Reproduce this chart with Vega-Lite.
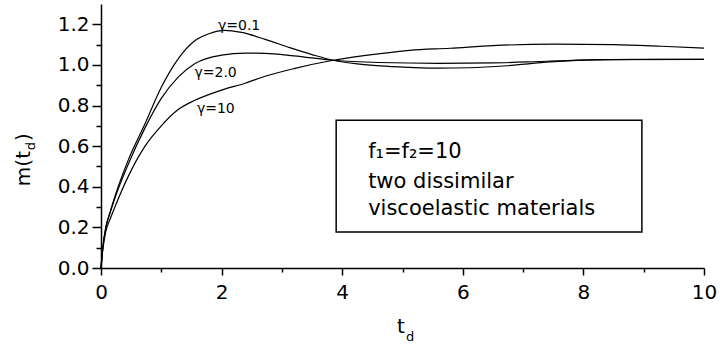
{
  "$schema": "https://vega.github.io/schema/vega-lite/v6.json",
  "width": 603,
  "height": 264,
  "autosize": {"type": "none"},
  "padding": {"left": 101, "top": 4, "right": 16, "bottom": 83},
  "background": "white",
  "config": {
    "view": {"stroke": null},
    "font": "DejaVu Sans",
    "axis": {
      "grid": false,
      "domainColor": "#000000",
      "domainWidth": 1.5,
      "tickColor": "#000000",
      "tickWidth": 1.5,
      "labelColor": "#000000",
      "labelFont": "DejaVu Sans",
      "labelFontSize": 20,
      "labelOverlap": false,
      "labelFlush": false
    }
  },
  "datasets": {
    "curves": [
      {"g": "0.1", "t": 0, "m": 0},
      {"g": "0.1", "t": 0.03, "m": 0.1},
      {"g": "0.1", "t": 0.08, "m": 0.2},
      {"g": "0.1", "t": 0.15, "m": 0.275},
      {"g": "0.1", "t": 0.25, "m": 0.37},
      {"g": "0.1", "t": 0.45, "m": 0.53},
      {"g": "0.1", "t": 0.73, "m": 0.71},
      {"g": "0.1", "t": 1.0, "m": 0.89},
      {"g": "0.1", "t": 1.28, "m": 1.03},
      {"g": "0.1", "t": 1.56, "m": 1.12},
      {"g": "0.1", "t": 1.8, "m": 1.155},
      {"g": "0.1", "t": 2.05, "m": 1.17},
      {"g": "0.1", "t": 2.33, "m": 1.16},
      {"g": "0.1", "t": 2.72, "m": 1.126},
      {"g": "0.1", "t": 3.13, "m": 1.085},
      {"g": "0.1", "t": 3.5, "m": 1.051},
      {"g": "0.1", "t": 3.85, "m": 1.023},
      {"g": "0.1", "t": 4.25, "m": 1.005},
      {"g": "0.1", "t": 4.63, "m": 0.995},
      {"g": "0.1", "t": 5.12, "m": 0.988},
      {"g": "0.1", "t": 5.6, "m": 0.984},
      {"g": "0.1", "t": 6.1, "m": 0.986},
      {"g": "0.1", "t": 6.73, "m": 0.996},
      {"g": "0.1", "t": 7.45, "m": 1.015},
      {"g": "0.1", "t": 8.4, "m": 1.026},
      {"g": "0.1", "t": 9.2, "m": 1.028},
      {"g": "0.1", "t": 10, "m": 1.027},
      {"g": "2.0", "t": 0, "m": 0},
      {"g": "2.0", "t": 0.03, "m": 0.1},
      {"g": "2.0", "t": 0.08, "m": 0.2},
      {"g": "2.0", "t": 0.15, "m": 0.27},
      {"g": "2.0", "t": 0.25, "m": 0.36},
      {"g": "2.0", "t": 0.45, "m": 0.51},
      {"g": "2.0", "t": 0.73, "m": 0.69},
      {"g": "2.0", "t": 1.0, "m": 0.835},
      {"g": "2.0", "t": 1.28, "m": 0.94},
      {"g": "2.0", "t": 1.56, "m": 1.007},
      {"g": "2.0", "t": 2.0, "m": 1.048},
      {"g": "2.0", "t": 2.39, "m": 1.058},
      {"g": "2.0", "t": 2.72, "m": 1.057},
      {"g": "2.0", "t": 3.2, "m": 1.045},
      {"g": "2.0", "t": 3.85, "m": 1.023},
      {"g": "2.0", "t": 4.6, "m": 1.012},
      {"g": "2.0", "t": 5.6, "m": 1.008},
      {"g": "2.0", "t": 6.5, "m": 1.01},
      {"g": "2.0", "t": 7.4, "m": 1.018},
      {"g": "2.0", "t": 8.4, "m": 1.026},
      {"g": "2.0", "t": 10, "m": 1.027},
      {"g": "10", "t": 0, "m": 0},
      {"g": "10", "t": 0.03, "m": 0.09},
      {"g": "10", "t": 0.08, "m": 0.18},
      {"g": "10", "t": 0.15, "m": 0.24},
      {"g": "10", "t": 0.23, "m": 0.3},
      {"g": "10", "t": 0.45, "m": 0.45},
      {"g": "10", "t": 0.73, "m": 0.6},
      {"g": "10", "t": 1.0, "m": 0.7},
      {"g": "10", "t": 1.28, "m": 0.78},
      {"g": "10", "t": 1.56, "m": 0.826},
      {"g": "10", "t": 2.0, "m": 0.876},
      {"g": "10", "t": 2.39, "m": 0.91},
      {"g": "10", "t": 2.72, "m": 0.944},
      {"g": "10", "t": 3.2, "m": 0.982},
      {"g": "10", "t": 3.85, "m": 1.023},
      {"g": "10", "t": 4.63, "m": 1.056},
      {"g": "10", "t": 5.12, "m": 1.072},
      {"g": "10", "t": 5.79, "m": 1.082},
      {"g": "10", "t": 6.5, "m": 1.095},
      {"g": "10", "t": 7.5, "m": 1.102},
      {"g": "10", "t": 8.5, "m": 1.1},
      {"g": "10", "t": 9.3, "m": 1.092},
      {"g": "10", "t": 10, "m": 1.083}
    ],
    "box": [
      {"t": 3.9, "t2": 8.97, "m": 0.728, "m2": 0.177}
    ],
    "boxText": [
      {"t": 4.43, "m": 0.541, "label": "f₁=f₂=10"},
      {"t": 4.43, "m": 0.3935, "label": "two dissimilar"},
      {"t": 4.43, "m": 0.261, "label": "viscoelastic materials"}
    ],
    "curveLabels": [
      {"t": 1.94, "m": 1.174, "label": "γ=0.1"},
      {"t": 1.55, "m": 0.941, "label": "γ=2.0"},
      {"t": 1.59, "m": 0.761, "label": "γ=10"}
    ],
    "xTitle": [
      {"t": 4.91, "m": -0.32, "label": "t"}
    ],
    "xTitleSub": [
      {"t": 5.06, "m": -0.359, "label": "d"}
    ],
    "yTitle": [
      {"t": -1.177, "m": 0.403, "label": "m(t"},
      {"t": -1.177, "m": 0.625, "label": ")"}
    ],
    "yTitleSub": [
      {"t": -1.095, "m": 0.58, "label": "d"}
    ]
  },
  "encoding": {
    "x": {
      "field": "t",
      "type": "quantitative",
      "scale": {"domain": [0, 10], "nice": false, "zero": false},
      "axis": {
        "title": null,
        "values": [0, 1, 2, 3, 4, 5, 6, 7, 8, 9, 10],
        "labelExpr": "datum.value % 2 === 0 ? format(datum.value, 'd') : ''",
        "tickSize": {"condition": {"test": "datum.value % 2 === 0", "value": 7}, "value": 4},
        "labelPadding": 7
      }
    },
    "y": {
      "field": "m",
      "type": "quantitative",
      "scale": {"domain": [0, 1.3], "nice": false, "zero": false},
      "axis": {
        "title": null,
        "values": [0, 0.1, 0.2, 0.3, 0.4, 0.5, 0.6, 0.7, 0.8, 0.9, 1.0, 1.1, 1.2],
        "labelExpr": "round(datum.value * 10) % 2 === 0 ? format(datum.value, '.1f') : ''",
        "tickSize": {"condition": {"test": "round(datum.value * 10) % 2 === 0", "value": 9}, "value": 5},
        "labelPadding": 3
      }
    }
  },
  "layer": [
    {
      "data": {"name": "curves"},
      "mark": {"type": "line", "interpolate": "monotone", "color": "#000000", "strokeWidth": 1.2},
      "encoding": {"detail": {"field": "g", "type": "nominal"}}
    },
    {
      "data": {"name": "box"},
      "mark": {"type": "rect", "fill": "#ffffff", "stroke": "#000000", "strokeWidth": 1.5},
      "encoding": {
        "x2": {"field": "t2"},
        "y2": {"field": "m2"}
      }
    },
    {
      "data": {"name": "boxText"},
      "mark": {"type": "text", "align": "left", "baseline": "alphabetic", "fontSize": 21, "font": "DejaVu Sans", "color": "#000000"},
      "encoding": {"text": {"field": "label"}}
    },
    {
      "data": {"name": "curveLabels"},
      "mark": {"type": "text", "align": "left", "baseline": "alphabetic", "fontSize": 14, "font": "DejaVu Sans", "color": "#000000"},
      "encoding": {"text": {"field": "label"}}
    },
    {
      "data": {"name": "xTitle"},
      "mark": {"type": "text", "align": "left", "baseline": "alphabetic", "fontSize": 20, "font": "DejaVu Sans", "color": "#000000"},
      "encoding": {"text": {"field": "label"}}
    },
    {
      "data": {"name": "xTitleSub"},
      "mark": {"type": "text", "align": "left", "baseline": "alphabetic", "fontSize": 13, "font": "DejaVu Sans", "color": "#000000"},
      "encoding": {"text": {"field": "label"}}
    },
    {
      "data": {"name": "yTitle"},
      "mark": {"type": "text", "align": "left", "baseline": "alphabetic", "angle": 270, "fontSize": 20, "font": "DejaVu Sans", "color": "#000000"},
      "encoding": {"text": {"field": "label"}}
    },
    {
      "data": {"name": "yTitleSub"},
      "mark": {"type": "text", "align": "left", "baseline": "alphabetic", "angle": 270, "fontSize": 13, "font": "DejaVu Sans", "color": "#000000"},
      "encoding": {"text": {"field": "label"}}
    }
  ]
}
